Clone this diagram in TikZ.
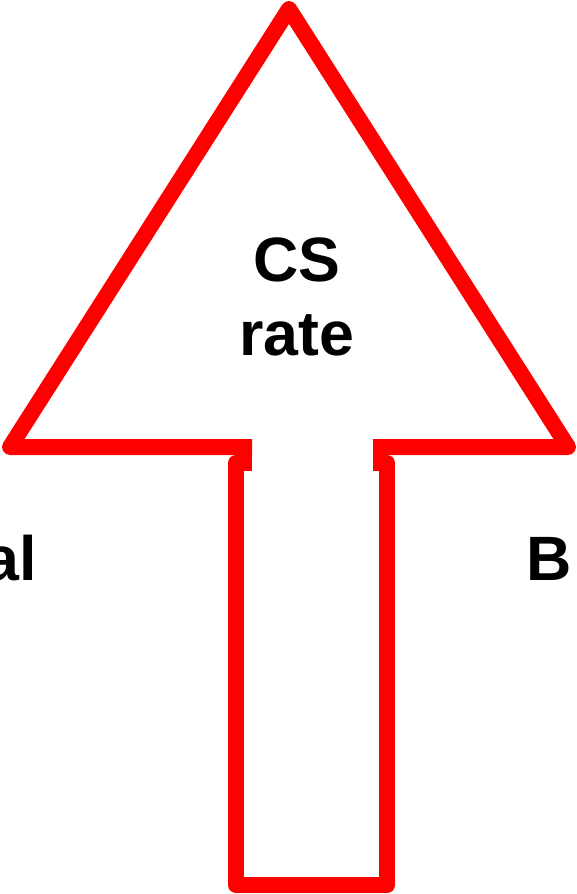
\documentclass[tikz,border=0pt]{standalone}
\usepackage{fontspec}
\setmainfont{Liberation Sans}
\begin{document}
\begin{tikzpicture}[x=0.75pt,y=-0.75pt,
  outline/.style={draw={rgb,255:red,255;green,0;blue,0},line width=12pt,line join=round,line cap=butt},
  lbl/.style={font=\fontsize{47}{55.5}\selectfont\bfseries,inner sep=0pt,align=center}]
\useasboundingbox (0,0) rectangle (577,894);
\clip (0,0) rectangle (577,894);
\coordinate (hl) at (252,447);
\coordinate (bl) at (10,447);
\coordinate (ap) at (289,9);
\coordinate (br) at (568,447);
\coordinate (hr) at (373,447);
\draw[outline] (hl) -- (bl) -- (ap) -- (br) -- (hr);
\coordinate (sl0) at (252,463);
\coordinate (sl) at (236,463);
\coordinate (sbl) at (236,885);
\coordinate (sbr) at (387,885);
\coordinate (sr) at (387,463);
\coordinate (sr0) at (373,463);
\draw[outline] (sl0) -- (sl) -- (sbl) -- (sbr) -- (sr) -- (sr0);
\node[lbl,anchor=base] (cs) at (297,355) {CS\\rate};
\node[lbl,anchor=base east] (al) at (37,580) {al};
\node[lbl,anchor=base west] (b) at (526,580) {B};
\end{tikzpicture}
\end{document}
